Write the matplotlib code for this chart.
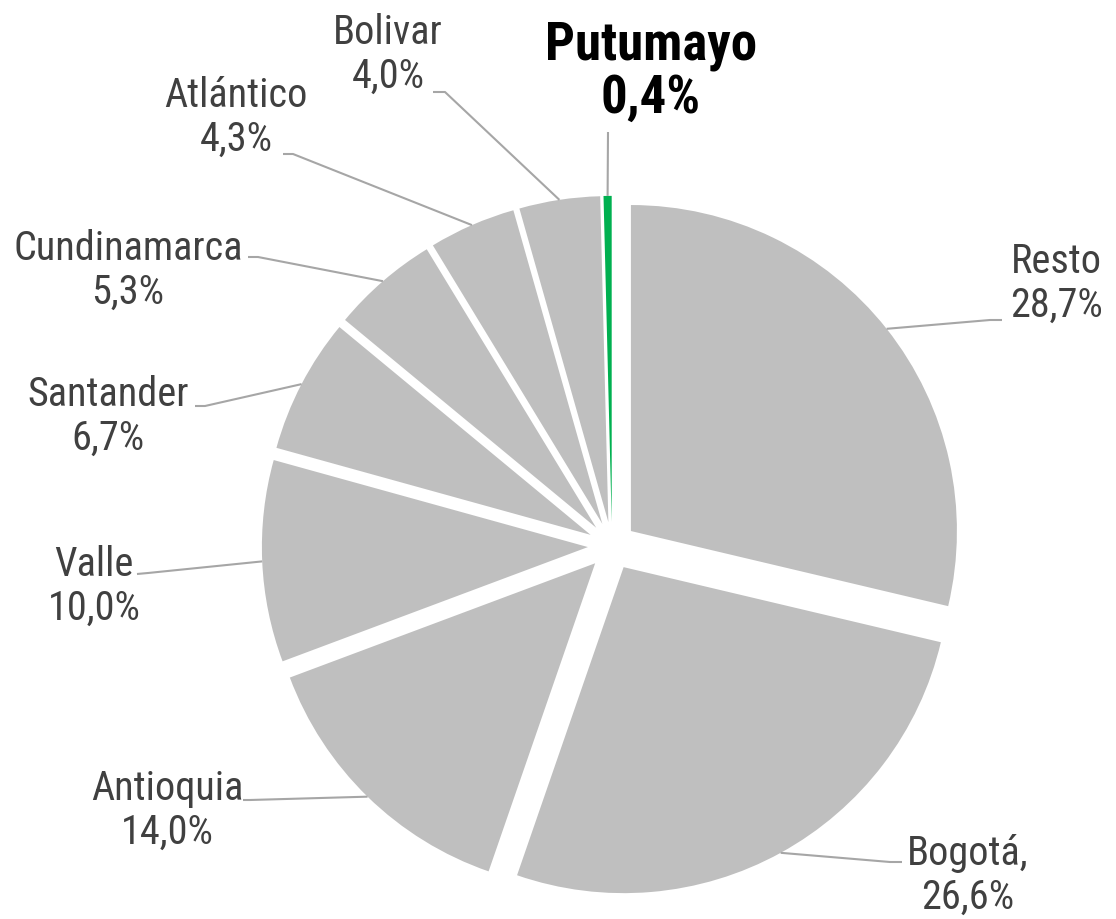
import numpy as np
import matplotlib.pyplot as plt
from matplotlib import font_manager

# data
departments = ['Resto', 'Bogotá,', 'Antioquia', 'Valle', 'Santander',
               'Cundinamarca', 'Atlántico', 'Bolivar', 'Putumayo']
shares = [28.7, 26.6, 14.0, 10.0, 6.7, 5.3, 4.3, 4.0, 0.4]
highlight = 'Putumayo'

GREY = '#BFBFBF'
GREEN = '#00B050'
TEXT = '#404040'
LEADER = '#A6A6A6'

installed = {f.name for f in font_manager.fontManager.ttflist}
narrow = [f for f in ['Liberation Sans Narrow', 'Arial Narrow', 'Roboto Condensed']
          if f in installed]
FONT = (narrow[:1] or ['Liberation Sans']) + ['DejaVu Sans']
SCALE = 1.0 if narrow else 0.85

W, H = 1116, 919
CX, CY, R = 612, 546, 326    # pie centre and radius in pixels
EXPLODE = 0.074


def px(x, y):
    # pixel position -> data units (pie radius = 1)
    return (x - CX) / R, (CY - y) / R


# label block centres and leader end points, in pixels
label_px = [(1056, 283), (968, 875), (167, 810), (94, 586), (108, 416),
            (128, 270), (236, 117), (388, 54), (651, 72)]
leader_px = [(990, 320), (890, 862), (250, 800), (148, 573), (205, 406),
             (258, 257), (293, 154), (445, 92), (608, 132)]
tail_px = [(1002, 320), (902, 862), (243, 800), (137, 574), (195, 406),
           (248, 257), (283, 154), (433, 92), None]

fig = plt.figure(figsize=(W / 100, H / 100), dpi=100)
ax = fig.add_axes([0, 0, 1, 1])

colors = [GREEN if d == highlight else GREY for d in departments]
ax.pie(shares, explode=[EXPLODE] * len(shares), startangle=90,
       counterclock=False, colors=colors, radius=1,
       wedgeprops=dict(edgecolor='none'))

cum = np.cumsum([0] + shares[:-1])
for i, (name, v) in enumerate(zip(departments, shares)):
    theta = np.deg2rad(90 - 360 * (cum[i] + v / 2) / 100)
    ax_, ay_ = (1 + EXPLODE) * np.cos(theta), (1 + EXPLODE) * np.sin(theta)
    lx, ly = px(*leader_px[i])
    xs, ys = [ax_, lx], [ay_, ly]
    if tail_px[i] is not None:
        tx, ty = px(*tail_px[i])
        xs.append(tx)
        ys.append(ty)
    ax.plot(xs, ys, color=LEADER, lw=1.5, solid_capstyle='butt', zorder=1)

    txt = '{}\n{:.1f}%'.format(name, v).replace('.', ',')
    bx, by = px(*label_px[i])
    if name == highlight:
        ax.text(bx, by, txt, ha='center', va='center', multialignment='center',
                fontsize=38 * SCALE, fontweight='bold', color='black',
                family=FONT, linespacing=1.05)
    else:
        ax.text(bx, by, txt, ha='center', va='center', multialignment='center',
                fontsize=29 * SCALE, color=TEXT, family=FONT, linespacing=1.15)

ax.set_xlim(-CX / R, (W - CX) / R)
ax.set_ylim(-(H - CY) / R, CY / R)
ax.set_aspect('equal')
ax.axis('off')

fig.savefig('out.png', dpi=100)
